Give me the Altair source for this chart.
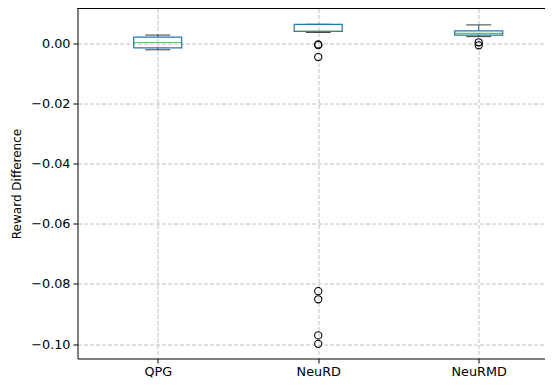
import json
import altair as alt
import pandas as pd

categories = ["QPG", "NeuRD", "NeuRMD"]
positions = [1, 2, 3]
q1 = [-0.00153, 0.00390, 0.00270]
median = [0.00023, 0.00395, 0.00325]
q3 = [0.00205, 0.00627, 0.00410]
whisker_lo = [-0.00218, 0.00357, 0.00220]
whisker_hi = [0.00270, 0.00627, 0.00608]

outlier_pos = [2, 2, 2, 2, 2, 2, 2, 3, 3]
outlier_val = [-0.0004, -0.00065, -0.0046, -0.0824, -0.0851, -0.0971, -0.0999, 0.0003, -0.0007]

stats = pd.DataFrame({
    "pos": positions, "cat": categories, "q1": q1, "median": median,
    "q3": q3, "lo": whisker_lo, "hi": whisker_hi,
})
outliers = pd.DataFrame({"pos": outlier_pos, "val": outlier_val})

X_MIN, X_MAX = 0.5, 3.413
W, H = 467.5, 350
BLUE = "#1f77b4"
GREEN = "#2ca02c"

xscale = alt.Scale(domain=[X_MIN, X_MAX], nice=False, zero=False, padding=0)
yscale = alt.Scale(domain=[-0.10477, 0.01153], nice=False, zero=False, padding=0)

label_expr = json.dumps(categories) + "[datum.value - 1]"

x_enc = alt.X("pos:Q", scale=xscale, title=None,
              axis=alt.Axis(values=positions, labelExpr=label_expr, grid=True, labelPadding=2))
y_axis = alt.Axis(values=[-0.10, -0.08, -0.06, -0.04, -0.02, 0.0], format=".2f", grid=True)

base = alt.Chart(stats)

whisk_hi = base.mark_rule(color=BLUE, strokeWidth=1.1).encode(
    x=x_enc,
    y=alt.Y("q3:Q", scale=yscale, title="Reward Difference", axis=y_axis),
    y2="hi:Q",
)
whisk_lo = base.mark_rule(color=BLUE, strokeWidth=1.1).encode(
    x=alt.X("pos:Q", scale=xscale), y=alt.Y("q1:Q", scale=yscale), y2="lo:Q"
)
cap_hi = base.mark_tick(orient="horizontal", size=25, thickness=1.1, color="black").encode(
    x=alt.X("pos:Q", scale=xscale), y=alt.Y("hi:Q", scale=yscale)
)
cap_lo = base.mark_tick(orient="horizontal", size=25, thickness=1.1, color="black").encode(
    x=alt.X("pos:Q", scale=xscale), y=alt.Y("lo:Q", scale=yscale)
)
box = base.mark_bar(size=48, fillOpacity=0, stroke=BLUE, strokeWidth=1.2).encode(
    x=alt.X("pos:Q", scale=xscale), y=alt.Y("q1:Q", scale=yscale), y2="q3:Q"
)
med = base.mark_tick(orient="horizontal", size=48, thickness=1.2, color=GREEN).encode(
    x=alt.X("pos:Q", scale=xscale), y=alt.Y("median:Q", scale=yscale)
)
pts = alt.Chart(outliers).mark_point(shape="circle", filled=False, color="black",
                                     size=52, strokeWidth=1.1, opacity=1).encode(
    x=alt.X("pos:Q", scale=xscale), y=alt.Y("val:Q", scale=yscale)
)
top_line = base.mark_rule(color="black", strokeWidth=1).encode(
    y=alt.value(0), x=alt.datum(X_MIN, scale=xscale), x2=alt.datum(X_MAX)
)

PAD = {"left": 69.5, "top": 0.5, "right": 0, "bottom": 22}

chart = alt.layer(whisk_hi, whisk_lo, cap_hi, cap_lo, box, med, pts, top_line).properties(
    width=W, height=H,
    autosize=alt.AutoSizeParams(type="none"),
    padding=PAD,
).configure_view(strokeWidth=0, strokeOpacity=0).configure_scale(continuousPadding=0).configure_axis(
    labelFont="DejaVu Sans", labelFontSize=12.8, labelColor="black",
    titleFont="DejaVu Sans", titleFontSize=12, titleFontWeight="normal", titleColor="black",
    titlePadding=7, tickColor="black", tickSize=4.5, labelPadding=3,
    domainColor="black", domainWidth=1,
    gridColor="#b0b0b0", gridDash=[4, 2], gridWidth=0.8,
)

chart.save("out.html", embed_options={"renderer": "svg", "actions": False})
